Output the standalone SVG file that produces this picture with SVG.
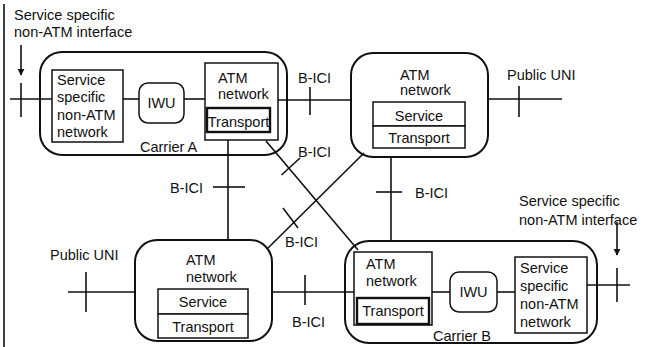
<svg xmlns="http://www.w3.org/2000/svg" width="658" height="347" viewBox="0 0 658 347">
<defs>
<marker id="ah" viewBox="0 0 10 10" refX="9" refY="5" markerWidth="7" markerHeight="9" markerUnits="userSpaceOnUse" orient="auto">
<path d="M0,0 L10,5 L0,10 z" fill="#111"/>
</marker>
</defs>
<style>
text{font-family:"Liberation Sans",Arial,sans-serif;font-size:14.5px;fill:#111}
.c{text-anchor:middle}
.ob{fill:none;stroke:#111;stroke-width:2}
.b{fill:#fff;stroke:#111;stroke-width:1.5}
.tb{fill:#fff;stroke:#111;stroke-width:2.4}
.l{fill:none;stroke:#111;stroke-width:1.6}
</style>
<rect width="658" height="347" fill="#fff"/>
<line class="l" x1="4" y1="4" x2="4" y2="347"/>

<g id="connectors">
<!-- Carrier A left interface -->
<line class="l" x1="10" y1="99" x2="52" y2="99"/>
<line class="l" x1="21" y1="83" x2="21" y2="117"/>
<line class="l" x1="21" y1="45" x2="21" y2="75" marker-end="url(#ah)"/>
<!-- Carrier A internal -->
<line class="l" x1="123" y1="99" x2="139" y2="99"/>
<line class="l" x1="184" y1="99" x2="205" y2="99"/>
<!-- Carrier A to top right network -->
<line class="l" x1="272" y1="100" x2="351" y2="100"/>
<line class="l" x1="310" y1="87" x2="310" y2="115"/>
<!-- Top right public UNI -->
<line class="l" x1="488" y1="99" x2="562" y2="99"/>
<line class="l" x1="519" y1="86" x2="519" y2="117"/>
<!-- Carrier A down to lower-left network -->
<line class="l" x1="228" y1="132" x2="228" y2="240"/>
<line class="l" x1="213" y1="187" x2="245" y2="187"/>
<!-- Diagonals -->
<line class="l" x1="266" y1="141" x2="358" y2="250"/>
<line class="l" x1="281.5" y1="175" x2="300" y2="158"/>
<line class="l" x1="364" y1="153" x2="267" y2="249"/>
<line class="l" x1="283" y1="208" x2="298" y2="228"/>
<!-- Top right down to Carrier B -->
<line class="l" x1="391" y1="157" x2="391" y2="241"/>
<line class="l" x1="376" y1="192" x2="402" y2="192"/>
<!-- Lower-left public UNI -->
<line class="l" x1="68" y1="292" x2="135" y2="292"/>
<line class="l" x1="86" y1="272" x2="86" y2="312"/>
<!-- Lower-left to Carrier B -->
<line class="l" x1="272" y1="292" x2="355" y2="292"/>
<line class="l" x1="305" y1="275" x2="305" y2="305"/>
<!-- Carrier B internal -->
<line class="l" x1="432" y1="292" x2="450" y2="292"/>
<line class="l" x1="497" y1="292" x2="515" y2="292"/>
<!-- Carrier B right interface -->
<line class="l" x1="587" y1="285" x2="630" y2="285"/>
<line class="l" x1="617" y1="268" x2="617" y2="302"/>
<line class="l" x1="617" y1="222" x2="617" y2="255" marker-end="url(#ah)"/>
</g>

<g id="labels">
<text x="14" y="20">Service specific</text>
<text x="14" y="37">non-ATM interface</text>
<text x="298" y="83">B-ICI</text>
<text x="507" y="80">Public UNI</text>
<text x="298" y="157">B-ICI</text>
<text x="170" y="193">B-ICI</text>
<text x="415" y="198">B-ICI</text>
<text x="519" y="206">Service specific</text>
<text x="519" y="225">non-ATM interface</text>
<text x="285" y="247">B-ICI</text>
<text x="50" y="260">Public UNI</text>
<text x="292" y="327">B-ICI</text>
</g>

<g id="carrierA">
<rect class="ob" x="40" y="52" width="247" height="103" rx="22"/>
<text x="140" y="152">Carrier A</text>
</g>
<g id="ssnA">
<rect class="b" x="52" y="70" width="71" height="72"/>
<text x="57" y="85">Service</text>
<text x="57" y="102">specific</text>
<text x="57" y="120">non-ATM</text>
<text x="57" y="137">network</text>
</g>
<g id="iwuA">
<rect class="b" x="139" y="83" width="45" height="40" rx="9"/>
<text class="c" x="161.5" y="108">IWU</text>
</g>
<g id="atmA">
<rect class="b" x="205" y="63" width="73" height="77"/>
<text x="218" y="83">ATM</text>
<text x="218" y="99">network</text>
<rect class="tb" x="207" y="108" width="63" height="24"/>
<text class="c" x="238.5" y="127">Transport</text>
</g>

<g id="atmTopRight">
<rect class="ob" x="351" y="53" width="137" height="104" rx="22"/>
<text x="400" y="80">ATM</text>
<text x="400" y="95">network</text>
<rect class="b" x="373" y="102" width="92" height="24"/>
<text class="c" x="419" y="121">Service</text>
<rect class="b" x="373" y="126" width="92" height="22"/>
<text class="c" x="419" y="143">Transport</text>
</g>

<g id="atmBottomLeft">
<rect class="ob" x="135" y="240" width="137" height="101" rx="22"/>
<text x="186" y="265">ATM</text>
<text x="186" y="282">network</text>
<rect class="b" x="158" y="289" width="90" height="25"/>
<text class="c" x="203" y="307">Service</text>
<rect class="b" x="158" y="314" width="90" height="24"/>
<text class="c" x="203" y="332">Transport</text>
</g>

<g id="carrierB">
<rect class="ob" x="345" y="241" width="252" height="102" rx="24"/>
<text x="433" y="341">Carrier B</text>
</g>
<g id="atmB">
<rect class="b" x="354" y="252" width="78" height="73"/>
<text x="366" y="269">ATM</text>
<text x="366" y="286">network</text>
<rect class="tb" x="357" y="298" width="72" height="26"/>
<text class="c" x="393" y="316">Transport</text>
</g>
<g id="iwuB">
<rect class="b" x="450" y="272" width="47" height="40" rx="9"/>
<text class="c" x="473.5" y="297">IWU</text>
</g>
<g id="ssnB">
<rect class="b" x="515" y="257" width="72" height="76"/>
<text x="520" y="273">Service</text>
<text x="520" y="291">specific</text>
<text x="520" y="309">non-ATM</text>
<text x="520" y="327">network</text>
</g>
</svg>
